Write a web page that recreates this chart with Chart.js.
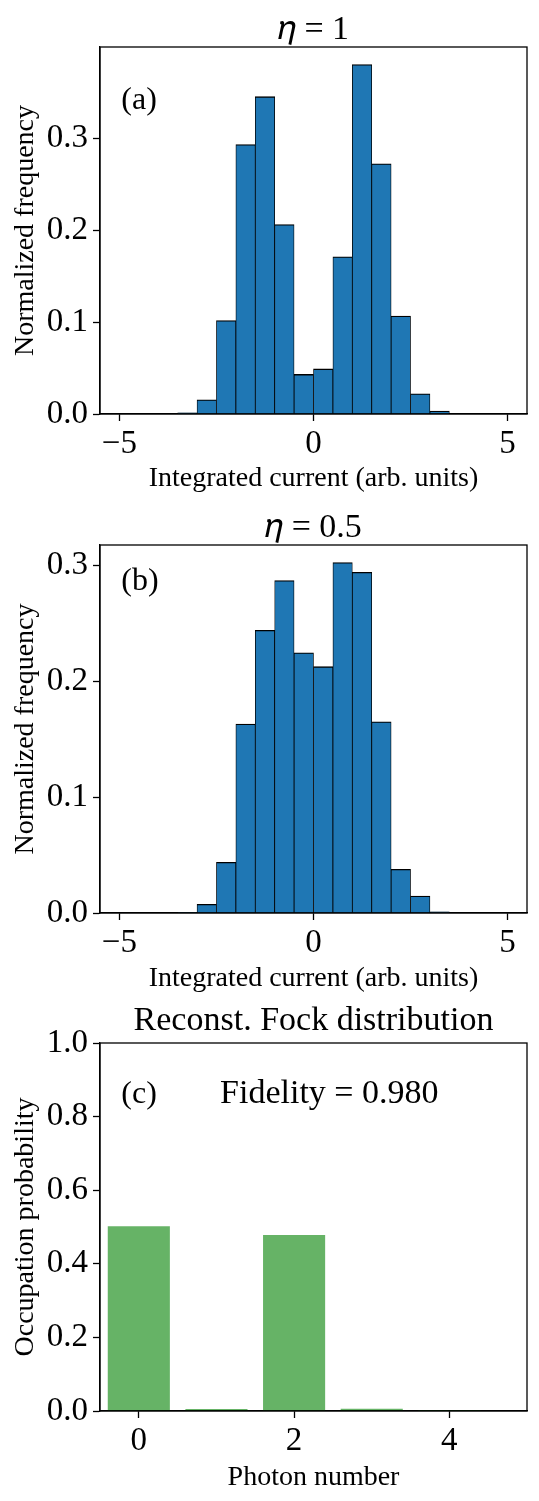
<!DOCTYPE html>
<html>
<head>
<meta charset="utf-8">
<script src="https://cdn.jsdelivr.net/npm/chart.js@4.4.1/dist/chart.umd.min.js"></script>
<style>
  body { margin: 0; background: #fff; width: 539px; height: 1501px; position: relative; overflow: hidden; }
  canvas { position: absolute; left: 0; }
</style>
</head>
<body>
<canvas id="chartA" width="539" height="500" style="top:0px"></canvas>
<canvas id="chartB" width="539" height="500" style="top:500px"></canvas>
<canvas id="chartC" width="539" height="501" style="top:1000px"></canvas>
<script>
// histogram bins (width 0.5), centres
const binCenters = [-3.25, -2.75, -2.25, -1.75, -1.25, -0.75, -0.25, 0.25, 0.75, 1.25, 1.75, 2.25, 2.75, 3.25];
const freqEta1   = [0.0014, 0.0155, 0.1015, 0.293, 0.345, 0.206, 0.043, 0.049, 0.171, 0.380, 0.272, 0.1065, 0.022, 0.0033];
const freqEta05  = [0.0005, 0.0075, 0.0438, 0.163, 0.244, 0.287, 0.2245, 0.2126, 0.3025, 0.294, 0.165, 0.0377, 0.0147, 0.001];
const histTicksX = [-5, 0, 5];
const histTicksY = [0, 0.1, 0.2, 0.3];

const photonNumbers = [0, 1, 2, 3, 4];
const fockProbs     = [0.502, 0.0055, 0.478, 0.0064, 0.003];
const fockTicksX    = [0, 2, 4];
const fockTicksY    = [0, 0.2, 0.4, 0.6, 0.8, 1.0];

const SERIF = "'Liberation Serif', 'DejaVu Serif', serif";
Chart.defaults.font.family = SERIF;
Chart.defaults.color = "#000";

function minus(v){ return String(v).replace("-", "\u2212"); }

// frame around the axes + text inside the panel
const panelText = {
    id: "panelText",
    afterDraw(chart, args, opts) {
        const ctx = chart.ctx, a = chart.chartArea;
        ctx.save();
        ctx.strokeStyle = "#000";
        ctx.lineWidth = 1.3;
        ctx.strokeRect(a.left, a.top, a.right - a.left, a.bottom - a.top);
        ctx.fillStyle = "#000";
        ctx.textBaseline = "middle";
        (opts.items || []).forEach(t => {
            ctx.font = (t.size || 34) + "px " + SERIF;
            ctx.textAlign = t.align || "left";
            ctx.fillText(t.text, a.left + t.fx * (a.right - a.left), a.top + t.fy * (a.bottom - a.top));
        });
        ctx.restore();
    }
};

const gridOpts = { offset: false, drawOnChartArea: false, tickLength: 7, tickColor: "#000", tickWidth: 1.3 };

function xAxis(min, max, ticks, title, height, titlePad){
    return {
        type: "linear", min: min, max: max, offset: false,
        afterBuildTicks: s => { s.ticks = ticks.map(v => ({ value: v })); },
        afterFit: s => { s.height = height; },
        grid: gridOpts,
        border: { color: "#000", width: 1.3 },
        ticks: { font: { size: 33 }, padding: 4, maxRotation: 0, autoSkip: false, callback: v => minus(v) },
        title: { display: true, text: title, font: { size: 28 }, padding: { top: 0, bottom: titlePad } }
    };
}

function yAxis(max, ticks, title){
    return {
        min: 0, max: max,
        afterBuildTicks: s => { s.ticks = ticks.map(v => ({ value: v })); },
        afterFit: s => { s.width = 100; },
        grid: gridOpts,
        border: { color: "#000", width: 1.3 },
        ticks: { font: { size: 33 }, padding: 5, autoSkip: false, callback: v => v.toFixed(1) },
        title: { display: true, text: title, font: { size: 28 }, padding: { top: 9, bottom: 0 } }
    };
}

function buildChart(id, cfg){
    return new Chart(document.getElementById(id).getContext("2d"), {
        type: "bar",
        data: { datasets: [cfg.dataset] },
        options: {
            responsive: false,
            animation: false,
            devicePixelRatio: 1,
            layout: { padding: { left: 0, right: 12, top: 0, bottom: 0 } },
            scales: { x: cfg.x, y: cfg.y },
            plugins: {
                legend: { display: false },
                tooltip: { enabled: false },
                title: {
                    display: true, text: cfg.title, color: "#000", fullSize: false,
                    font: { size: 34, weight: "normal", lineHeight: 1 }, padding: cfg.titlePad
                },
                panelText: { items: cfg.items }
            }
        },
        plugins: [panelText]
    });
}

function histDataset(values){
    return {
        data: binCenters.map((x, i) => ({ x: x, y: values[i] })),
        backgroundColor: "#1f77b4",
        borderColor: "#000",
        borderWidth: { top: 1.3, left: 0.8, right: 0.8, bottom: 0 },
        barPercentage: 1,
        categoryPercentage: 1
    };
}

buildChart("chartA", {
    title: "𝜂 = 1", titlePad: { top: 13, bottom: 0 },
    dataset: histDataset(freqEta1),
    x: xAxis(-5.5, 5.5, histTicksX, "Integrated current (arb. units)", 86, 5),
    y: yAxis(0.399, histTicksY, "Normalized frequency"),
    items: [{ text: "(a)", fx: 0.05, fy: 0.145, size: 32 }]
});

buildChart("chartB", {
    title: "𝜂 = 0.5", titlePad: { top: 11, bottom: 0 },
    dataset: histDataset(freqEta05),
    x: xAxis(-5.5, 5.5, histTicksX, "Integrated current (arb. units)", 87, 5),
    y: yAxis(0.3176, histTicksY, "Normalized frequency"),
    items: [{ text: "(b)", fx: 0.05, fy: 0.1, size: 32 }]
});

buildChart("chartC", {
    title: "Reconst. Fock distribution", titlePad: { top: 4, bottom: 5 },
    dataset: {
        data: photonNumbers.map((x, i) => ({ x: x, y: fockProbs[i] })),
        backgroundColor: "rgba(0,128,0,0.6)",
        borderWidth: 0,
        barPercentage: 0.8,
        categoryPercentage: 1
    },
    x: xAxis(-0.5, 5, fockTicksX, "Photon number", 90, 7),
    y: yAxis(1.0, fockTicksY, "Occupation probability"),
    items: [
        { text: "(c)", fx: 0.05, fy: 0.14, size: 32 },
        { text: "Fidelity = 0.980", fx: 0.537, fy: 0.14, align: "center" }
    ]
});
</script>
</body>
</html>
